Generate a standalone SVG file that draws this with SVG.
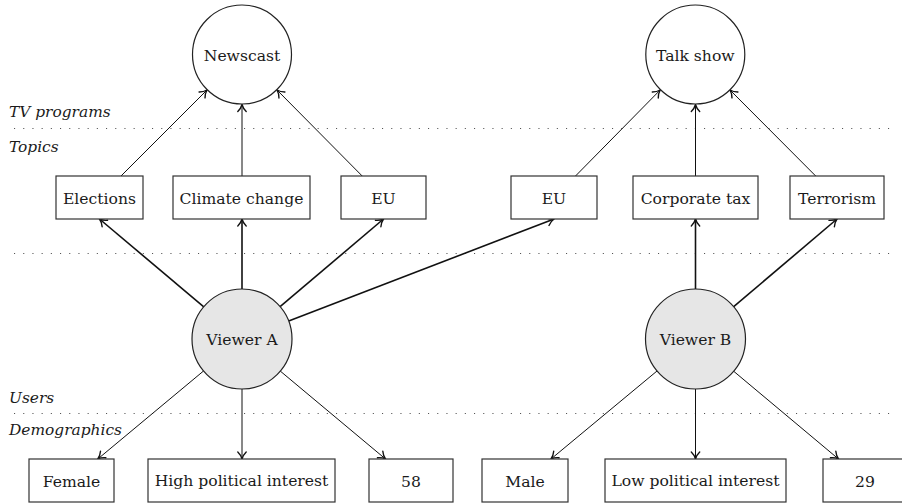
<svg xmlns="http://www.w3.org/2000/svg" width="902" height="503" viewBox="0 0 902 503">
<style>
text{font-family:'DejaVu Serif',serif;font-size:15.6px;fill:#1a1a1a}
.lbl{font-style:italic;text-anchor:start;font-size:15.4px}
.c{text-anchor:middle}
.box{fill:#fff;stroke:#333;stroke-width:1.2}
.prog{fill:#fff;stroke:#222;stroke-width:1.2}
.user{fill:#e6e6e6;stroke:#222;stroke-width:1.2}
.dot{stroke:#555;stroke-width:1.1;stroke-dasharray:1.1 8.1;fill:none}
.e{stroke:#111;stroke-width:1;fill:none;marker-end:url(#arr)}
.t{stroke:#111;stroke-width:1.6;fill:none;marker-end:url(#arr)}
</style>
<defs>
<marker id="arr" markerUnits="userSpaceOnUse" viewBox="-8 -5 9 10" markerWidth="9" markerHeight="10" refX="0" refY="0" orient="auto" overflow="visible">
<path d="M-7,-4.2 C-4.8,-1.9 -2.2,-0.6 0,0 C-2.2,0.6 -4.8,1.9 -7,4.2" fill="none" stroke="#111" stroke-width="1.4" stroke-linecap="round"/>
</marker>
</defs>
<g id="layers">
<line class="dot" x1="14" y1="128.5" x2="895" y2="128.5"/>
<line class="dot" x1="14" y1="253.5" x2="895" y2="253.5"/>
<line class="dot" x1="14" y1="413.5" x2="895" y2="413.5"/>
<text class="lbl" x="9" y="117">TV programs</text>
<text class="lbl" x="9" y="152">Topics</text>
<text class="lbl" x="9" y="403">Users</text>
<text class="lbl" x="9" y="435">Demographics</text>
</g>
<g id="connectors">
<line class="e" x1="121" y1="176" x2="207" y2="90"/>
<line class="e" x1="242" y1="176" x2="242" y2="104.5"/>
<line class="e" x1="362.2" y1="176" x2="277" y2="90"/>
<line class="e" x1="575.5" y1="176" x2="660.2" y2="90"/>
<line class="e" x1="695.5" y1="176" x2="695.5" y2="104.5"/>
<line class="e" x1="815.7" y1="176" x2="730" y2="90"/>
<line class="t" x1="203.8" y1="306.8" x2="99.5" y2="219"/>
<line class="t" x1="242" y1="289" x2="242" y2="219"/>
<line class="t" x1="280.1" y1="306.7" x2="383.5" y2="219"/>
<line class="t" x1="288.7" y1="321" x2="554" y2="219"/>
<line class="t" x1="695.5" y1="289" x2="695.5" y2="219"/>
<line class="t" x1="733.7" y1="306.7" x2="837" y2="219"/>
<line class="e" x1="203.5" y1="371" x2="97.8" y2="459"/>
<line class="e" x1="242" y1="389" x2="242" y2="459"/>
<line class="e" x1="280.3" y1="371.1" x2="385.5" y2="459"/>
<line class="e" x1="657" y1="371" x2="551" y2="459"/>
<line class="e" x1="695.5" y1="389" x2="695.5" y2="459"/>
<line class="e" x1="733.5" y1="371.1" x2="838.5" y2="459"/>
</g>
<g id="newscast"><circle class="prog" cx="242" cy="54.5" r="49.5"/><text class="c" x="242" y="61">Newscast</text></g>
<g id="talkshow"><circle class="prog" cx="695.3" cy="54.5" r="49.5"/><text class="c" x="695.3" y="61">Talk show</text></g>
<g id="elections"><rect class="box" x="56" y="176" width="87" height="43"/><text class="c" x="99.5" y="203.5">Elections</text></g>
<g id="climate"><rect class="box" x="173" y="176" width="137" height="43"/><text class="c" x="241.5" y="203.5">Climate change</text></g>
<g id="eu1"><rect class="box" x="341" y="176" width="85" height="43"/><text class="c" x="383.5" y="203.5">EU</text></g>
<g id="eu2"><rect class="box" x="511" y="176" width="86" height="43"/><text class="c" x="554" y="203.5">EU</text></g>
<g id="corptax"><rect class="box" x="633" y="176" width="125" height="43"/><text class="c" x="695.5" y="203.5">Corporate tax</text></g>
<g id="terrorism"><rect class="box" x="790" y="176" width="94" height="43"/><text class="c" x="837" y="203.5">Terrorism</text></g>
<g id="viewerA"><circle class="user" cx="242" cy="339" r="50"/><text class="c" x="242" y="345">Viewer A</text></g>
<g id="viewerB"><circle class="user" cx="695.5" cy="339" r="50"/><text class="c" x="695.5" y="345">Viewer B</text></g>
<g id="female"><rect class="box" x="29" y="459" width="85" height="43"/><text class="c" x="71.5" y="487">Female</text></g>
<g id="highpol"><rect class="box" x="148" y="459" width="187" height="43"/><text class="c" x="241.5" y="486">High political interest</text></g>
<g id="age58"><rect class="box" x="369" y="459" width="84" height="43"/><text class="c" x="411" y="487">58</text></g>
<g id="male"><rect class="box" x="482" y="459" width="86" height="43"/><text class="c" x="525" y="487">Male</text></g>
<g id="lowpol"><rect class="box" x="605" y="459" width="181" height="43"/><text class="c" x="695.5" y="486">Low political interest</text></g>
<g id="age29"><rect class="box" x="823" y="459" width="84" height="43"/><text class="c" x="865" y="487">29</text></g>
</svg>
